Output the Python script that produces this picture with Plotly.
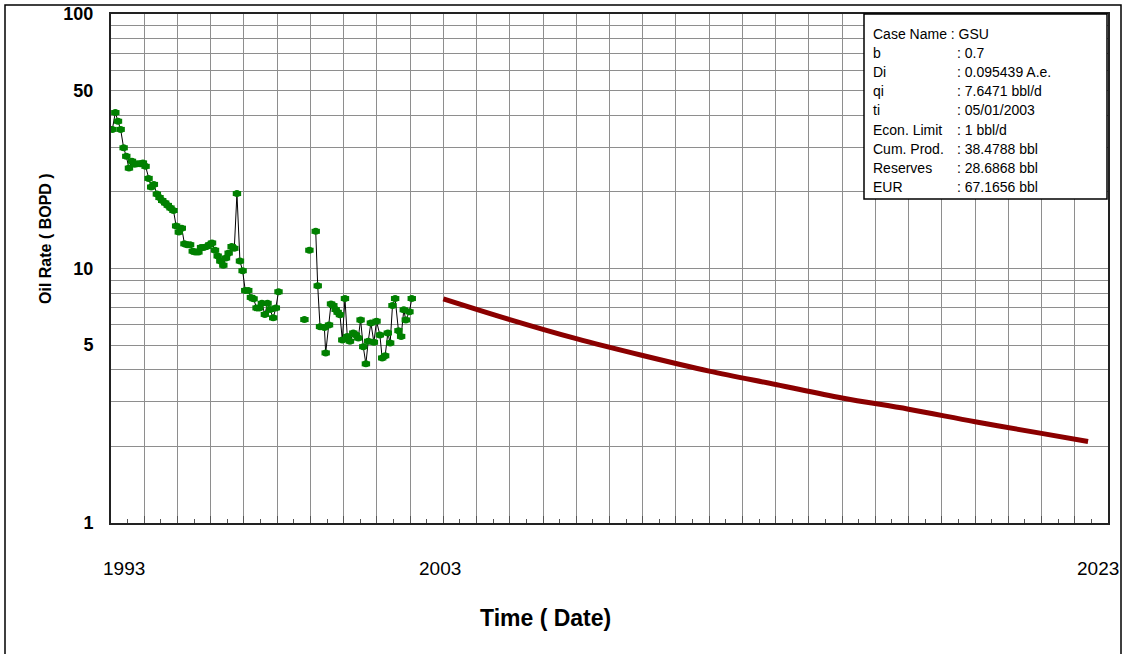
import plotly.graph_objects as go

# ---- Production history (decimal year, oil rate BOPD) ----
hist_years = [
    1993.04, 1993.13, 1993.21, 1993.29, 1993.38, 1993.46, 1993.54, 1993.63, 1993.71, 1993.79, 1993.88, 1993.96,
    1994.04, 1994.13, 1994.21, 1994.29, 1994.38, 1994.46, 1994.54, 1994.63, 1994.71, 1994.79, 1994.88, 1994.96,
    1995.04, 1995.13, 1995.21, 1995.29, 1995.38, 1995.46, 1995.54, 1995.63, 1995.71, 1995.79, 1995.88, 1995.96,
    1996.04, 1996.13, 1996.21, 1996.29, 1996.38, 1996.46, 1996.54, 1996.63, 1996.71, 1996.79, 1996.88, 1996.96,
    1997.04, 1997.13, 1997.21, 1997.29, 1997.38, 1997.46, 1997.54, 1997.63, 1997.71, 1997.79, 1997.88, 1997.96,
    1998.04,
    None,
    1998.82,
    None,
    1998.97,
    None,
    1999.16, 1999.22, 1999.29, 1999.42, 1999.46, 1999.56, 1999.62, 1999.69, 1999.76, 1999.82,
    1999.89, 1999.96, 2000.04, 2000.11, 2000.19, 2000.29, 2000.37, 2000.44, 2000.51, 2000.59,
    2000.67, 2000.74, 2000.82, 2000.91, 2000.99, 2001.09, 2001.16, 2001.25, 2001.33, 2001.40,
    2001.47, 2001.55, 2001.65, 2001.73, 2001.81, 2001.87, 2001.98, 2002.05,
]
hist_rates = [
    35.2, 41.0, 37.9, 35.2, 29.8, 27.6, 24.8, 26.4, 25.7, 25.8, 25.8, 26.0,
    25.2, 22.6, 20.9, 21.4, 19.6, 19.0, 18.5, 18.1, 17.7, 17.3, 16.9, 14.7,
    13.9, 14.4, 12.5, 12.4, 12.4, 11.7, 11.6, 11.6, 12.1, 12.1, 12.2, 12.4,
    12.6, 11.8, 11.2, 10.7, 10.3, 11.0, 11.5, 12.2, 12.0, 19.7, 10.7, 9.8,
    8.2, 8.2, 7.7, 7.6, 7.0, 7.0, 7.3, 6.6, 7.3, 6.9, 6.4, 7.0,
    8.1,
    None,
    6.3,
    None,
    11.8,
    None,
    14.0, 8.55, 5.91, 5.87, 4.66, 6.0, 7.26, 7.15, 6.90, 6.73,
    6.58, 5.24, 7.62, 5.41, 5.18, 5.58, 5.48, 5.33, 6.28, 4.93,
    4.22, 5.18, 6.11, 5.13, 6.21, 5.48, 4.45, 4.54, 5.58, 5.10,
    7.15, 7.62, 5.70, 5.41, 6.88, 6.28, 6.76, 7.62,
]

# ---- Hyperbolic forecast (decimal year, BOPD) ----
fc_years = [2003.0, 2005.0, 2007.0, 2009.0, 2011.0, 2013.0, 2015.0, 2017.0, 2019.0, 2021.0, 2022.4]
fc_rates = [7.6, 6.3, 5.3, 4.55, 3.95, 3.5, 3.1, 2.8, 2.5, 2.25, 2.09]

# ---- Axis labelling ----
y_grid = [1, 2, 3, 4, 5, 6, 7, 8, 9, 10, 20, 30, 40, 50, 60, 70, 80, 90, 100]
y_labels = {1: "1", 5: "5", 10: "10", 50: "50", 100: "100"}
x_label_years = [1993, 2003, 2023]
x_label_shift = [13, -3, -10]

# ---- Decline-case summary ----
info_keys = ["b", "Di", "qi", "ti", "Econ. Limit", "Cum. Prod.", "Reserves", "EUR"]
info_vals = [": 0.7", ": 0.095439 A.e.", ": 7.6471 bbl/d", ": 05/01/2003", ": 1 bbl/d",
             ": 38.4788 bbl", ": 28.6868 bbl", ": 67.1656 bbl"]
case_line = "Case Name : GSU"

W, H = 1128, 654
L, R, T, B = 111, 20, 14, 131
PW, PH = W - L - R, H - T - B


def px_x(px):
    return (px - L) / PW


def px_y(py):
    return (H - B - py) / PH


FONT = "Liberation Sans, Arial, sans-serif"
GRID = "#8e8e8e"
GREEN = "#008000"
DARKRED = "#8b0000"

fig = go.Figure()

fig.add_trace(go.Scatter(
    x=hist_years, y=hist_rates, mode="lines+markers",
    line=dict(color="black", width=1),
    marker=dict(symbol="circle", size=7, color=GREEN, line=dict(width=0)),
    connectgaps=False, hoverinfo="x+y",
))
fig.add_trace(go.Scatter(
    x=hist_years, y=hist_rates, mode="markers",
    marker=dict(symbol="line-ew", size=6, line=dict(color=GREEN, width=5)),
    hoverinfo="skip",
))
fig.add_trace(go.Scatter(
    x=fc_years, y=fc_rates, mode="lines",
    line=dict(color=DARKRED, width=5, shape="spline"),
    hoverinfo="x+y",
))

fig.update_layout(
    width=W, height=H, autosize=False,
    margin=dict(l=L, r=R, t=T, b=B, pad=0, autoexpand=False),
    paper_bgcolor="white", plot_bgcolor="white",
    showlegend=False,
    font=dict(family=FONT, color="black"),
)

fig.update_xaxes(
    range=[1993, 2023], automargin=False,
    tickmode="linear", tick0=1993, dtick=1,
    showticklabels=False,
    showgrid=True, gridcolor=GRID, gridwidth=1,
    ticks="inside", ticklen=7, tickcolor="#555555", tickwidth=1,
    minor=dict(tick0=1993, dtick=0.5, ticks="inside", ticklen=4,
               tickcolor="#555555", showgrid=False),
    showline=True, linecolor="#222222", linewidth=2, mirror=True,
    zeroline=False,
)
fig.update_yaxes(
    type="log", range=[0, 2], automargin=False,
    tickmode="array", tickvals=y_grid,
    ticktext=[y_labels.get(v, "") for v in y_grid],
    tickfont=dict(family=FONT, size=18, color="black", weight="bold"),
    ticks="", ticklabelstandoff=12,
    showgrid=True, gridcolor=GRID, gridwidth=1,
    showline=True, linecolor="#222222", linewidth=2, mirror=True,
    zeroline=False,
)

annotations = []
for yr, dx in zip(x_label_years, x_label_shift):
    annotations.append(dict(
        x=yr, y=0, xref="x", yref="paper", xshift=dx, yshift=-45,
        text=str(yr), showarrow=False, xanchor="center", yanchor="middle",
        font=dict(family=FONT, size=19, color="black"),
    ))

annotations.append(dict(
    x=px_x(545), y=px_y(618), xref="paper", yref="paper",
    text="Time ( Date)", showarrow=False, xanchor="center", yanchor="middle",
    font=dict(family=FONT, size=23, color="black", weight="bold"),
))
annotations.append(dict(
    x=px_x(45), y=px_y(239), xref="paper", yref="paper",
    text="Oil Rate ( BOPD )", showarrow=False, textangle=-90,
    xanchor="center", yanchor="middle",
    font=dict(family=FONT, size=16, color="black", weight="bold"),
))

# summary box text
row_y = [34, 53, 72, 91, 110, 130, 149, 168, 187]
annotations.append(dict(
    x=px_x(871), y=px_y(row_y[0]), xref="paper", yref="paper",
    text=case_line, showarrow=False, xanchor="left", yanchor="middle",
    font=dict(family=FONT, size=14, color="black"),
))
for k, v, ry in zip(info_keys, info_vals, row_y[1:]):
    annotations.append(dict(
        x=px_x(871), y=px_y(ry), xref="paper", yref="paper",
        text=k, showarrow=False, xanchor="left", yanchor="middle",
        font=dict(family=FONT, size=14, color="black"),
    ))
    annotations.append(dict(
        x=px_x(955), y=px_y(ry), xref="paper", yref="paper",
        text=v, showarrow=False, xanchor="left", yanchor="middle",
        font=dict(family=FONT, size=14, color="black"),
    ))

fig.update_layout(annotations=annotations)

shapes = [
    # summary box
    dict(type="rect", xref="paper", yref="paper",
         x0=px_x(864), x1=px_x(1107), y0=px_y(199), y1=px_y(14),
         line=dict(color="black", width=1.5), fillcolor="white", layer="above"),
    # page frame
    dict(type="rect", xref="paper", yref="paper",
         x0=px_x(5), x1=px_x(1121), y0=px_y(662), y1=px_y(5),
         line=dict(color="black", width=1.5), layer="above"),
]
fig.update_layout(shapes=shapes)

fig.write_html("out.html")
